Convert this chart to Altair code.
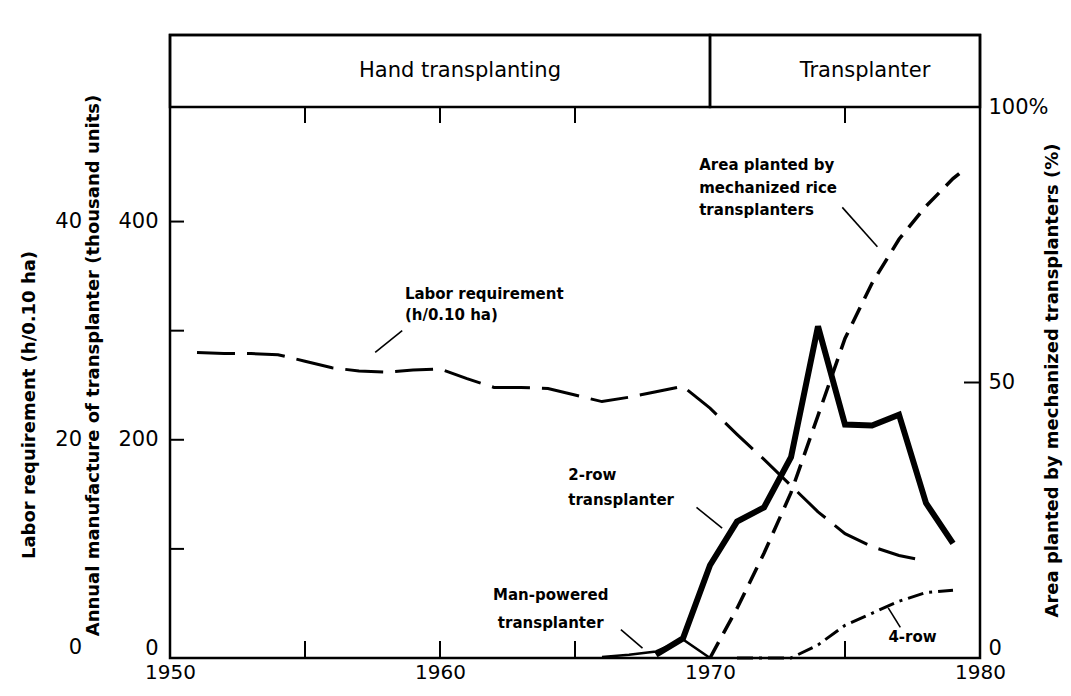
import altair as alt
import pandas as pd

# ---------------- data ----------------
labor_years = [1951, 1952, 1953, 1954, 1955, 1956, 1957, 1958, 1959, 1960, 1961, 1962,
               1963, 1964, 1965, 1966, 1967, 1968, 1969, 1970, 1971, 1972, 1973, 1974,
               1975, 1976, 1977, 1978]
labor_values = [28.0, 27.9, 27.9, 27.8, 27.2, 26.6, 26.3, 26.2, 26.4, 26.5, 25.6, 24.8,
                24.8, 24.7, 24.1, 23.5, 23.9, 24.4, 24.9, 22.9, 20.5, 18.2, 15.8, 13.4,
                11.4, 10.2, 9.4, 8.9]

two_row_years = [1968, 1969, 1970, 1971, 1972, 1973, 1974, 1975, 1976, 1977, 1978, 1979]
two_row_values = [3, 18, 85, 125, 138, 184, 304, 214, 213, 223, 142, 105]

man_years = [1966, 1967, 1968, 1969, 1970]
man_values = [1, 3, 6, 17, 0]

four_row_years = [1971, 1972, 1973, 1974, 1975, 1976, 1977, 1978, 1979]
four_row_values = [0, 0, 0, 12, 30, 41, 52, 60, 62]

area_years = [1970, 1971, 1972, 1973, 1974, 1975, 1976, 1977, 1978, 1979, 1979.5]
area_values = [0, 9, 19, 30, 44, 58, 68, 76, 82, 87, 89]

x_tick_labels = [1950, 1960, 1970, 1980]
x_minor_ticks = [1955, 1960, 1965, 1975]
left_tick_labels = [0, 200, 400]
labor_tick_labels = [0, 20, 40]
left_minor_ticks = [100, 200, 300, 400]
right_tick_labels = [0, 50, 100]
right_minor_ticks = [50]

header_labels = ["Hand transplanting", "Transplanter"]
header_start = [1950, 1970]
header_end = [1970, 1980]

ann_text = ["Labor requirement", "(h/0.10 ha)",
            "Area planted by", "mechanized rice", "transplanters",
            "2-row", "transplanter",
            "Man-powered", "transplanter",
            "4-row"]
ann_year = [1958.7, 1958.7, 1969.6, 1969.6, 1969.6, 1964.75, 1964.75, 1964.1, 1964.1, 1977.5]
ann_level = [334, 314, 452, 431, 411, 168, 145, 58, 32, 19]
ann_align = ["left", "left", "left", "left", "left", "left", "left", "center", "center", "center"]

ptr_x1 = [1958.6, 1974.9, 1969.5, 1966.7, 1976.6]
ptr_x2 = [1957.6, 1976.2, 1970.45, 1967.5, 1977.05]
ptr_y1 = [300, 413, 138, 26, 46]
ptr_y2 = [280, 377, 119, 9, 28]

# ---------------- layout ----------------
W, H, HEAD = 810, 623, 72
FONT = "DejaVu Sans"
INK = "black"

def series_df(years, values, scale=1.0):
    return pd.DataFrame({"x": years, "y": [v * scale for v in values]})

zero_base = {"condition": {"test": "datum.value == 0", "value": "bottom"}, "value": "middle"}

xscale = alt.Scale(domain=[1950, 1980], nice=False, zero=False)
x_axis = alt.Axis(values=x_tick_labels, format="d", ticks=False, domain=False, grid=False,
                  labelFontSize=20, labelFont=FONT, labelColor=INK, labelPadding=4,
                  labelFlush=False, labelOverlap=False, title=None)
X = alt.X("x:Q", scale=xscale, axis=x_axis)

lscale = alt.Scale(domain=[0, 505], range=[H, HEAD], nice=False, zero=False)
left_axis = alt.Axis(values=left_tick_labels, ticks=False, domain=False, grid=False,
                     labelFontSize=21, labelFont=FONT, labelColor=INK, labelPadding=12,
                     labelOverlap=False, labelBaseline=zero_base,
                     title="Annual manufacture of transplanter (thousand units)",
                     titleFont=FONT, titleFontSize=18, titleFontWeight="bold", titleColor=INK,
                     titleAngle=270, titleX=-77, titleY=330, titleAlign="center",
                     titleBaseline="middle")
YL = alt.Y("y:Q", scale=lscale, axis=left_axis)

rscale = alt.Scale(domain=[0, 100], range=[H, HEAD], nice=False, zero=False)
right_axis = alt.Axis(orient="right", values=right_tick_labels, ticks=False, domain=False,
                      grid=False, labelFontSize=21, labelFont=FONT, labelColor=INK,
                      labelPadding=8, labelOverlap=False, labelBaseline=zero_base,
                      labelExpr="datum.value == 100 ? '100%' : datum.label",
                      title="Area planted by mechanized transplanters (%)",
                      titleFont=FONT, titleFontSize=18, titleFontWeight="bold", titleColor=INK,
                      titleAngle=270, titleX=72, titleY=345, titleAlign="center",
                      titleBaseline="middle")
YR = alt.Y("y:Q", scale=rscale, axis=right_axis)

# ---------------- left-scale layers ----------------
labor = alt.Chart(series_df(labor_years, labor_values, 10)).mark_line(
    color=INK, strokeWidth=3, strokeDash=[38, 12]).encode(x=X, y=YL)
two_row = alt.Chart(series_df(two_row_years, two_row_values)).mark_line(
    color=INK, strokeWidth=6, strokeJoin="miter").encode(x=X, y=YL)
man = alt.Chart(series_df(man_years, man_values)).mark_line(
    color=INK, strokeWidth=2.5).encode(x=X, y=YL)
four_row = alt.Chart(series_df(four_row_years, four_row_values)).mark_line(
    color=INK, strokeWidth=3, strokeDash=[16, 6, 3, 6]).encode(x=X, y=YL)

ann_df = pd.DataFrame({"t": ann_text, "x": ann_year, "y": ann_level, "a": ann_align})
ann_left = alt.Chart(ann_df).transform_filter("datum.a == 'left'").mark_text(
    align="left", baseline="middle", font=FONT, fontSize=15, fontWeight="bold",
    color=INK).encode(x=X, y=YL, text="t:N")
ann_center = alt.Chart(ann_df).transform_filter("datum.a == 'center'").mark_text(
    align="center", baseline="middle", font=FONT, fontSize=15, fontWeight="bold",
    color=INK).encode(x=X, y=YL, text="t:N")

ptr_df = pd.DataFrame({"x": ptr_x1, "x2": ptr_x2, "y": ptr_y1, "y2": ptr_y2})
pointers = alt.Chart(ptr_df).mark_rule(color=INK, strokeWidth=1.6).encode(
    x=X, x2="x2:Q", y=YL, y2="y2:Q")

left_ticks = alt.Chart(pd.DataFrame({"y": left_minor_ticks})).mark_rule(
    color=INK, strokeWidth=2).encode(y=YL, x=alt.value(0), x2=alt.value(14))

labor_lbl = alt.Chart(pd.DataFrame({"v": labor_tick_labels})).transform_calculate(
    y="datum.v * 10", t="'' + datum.v",
    b="datum.v == 0 ? 'bottom' : 'middle'").mark_text(
    align="right", baseline={"expr": "datum.b"}, font=FONT, fontSize=21, color=INK).encode(
    y=YL, x=alt.value(-88), text="t:N")

labor_title = alt.Chart(pd.DataFrame({"t": ["Labor requirement (h/0.10 ha)"]})).mark_text(
    angle=270, align="center", baseline="middle", font=FONT, fontSize=18,
    fontWeight="bold", color=INK).encode(x=alt.value(-140), y=alt.value(370), text="t:N")

# ---------------- header & x ticks ----------------
head_df = pd.DataFrame({"t": header_labels, "x": header_start, "x2": header_end})
head_df["m"] = (head_df["x"] + head_df["x2"]) / 2
header_box = alt.Chart(head_df).mark_rect(
    fillOpacity=0, stroke=INK, strokeWidth=2.5).encode(
    x=X, x2="x2:Q", y=alt.value(0), y2=alt.value(HEAD))
header_txt = alt.Chart(head_df).mark_text(
    font=FONT, fontSize=21, color=INK, baseline="middle", dx=20).encode(
    x=alt.X("m:Q", scale=xscale, axis=x_axis), y=alt.value(HEAD / 2), text="t:N")

xt_df = pd.DataFrame({"x": x_minor_ticks})
bottom_ticks = alt.Chart(xt_df).mark_rule(color=INK, strokeWidth=2).encode(
    x=X, y=alt.value(H), y2=alt.value(H - 17))
top_ticks = alt.Chart(xt_df).mark_rule(color=INK, strokeWidth=2).encode(
    x=X, y=alt.value(HEAD), y2=alt.value(HEAD + 16))

left_group = alt.layer(labor, four_row, man, two_row, pointers, ann_left, ann_center,
                       left_ticks, labor_lbl, labor_title, header_box, header_txt,
                       bottom_ticks, top_ticks)

# ---------------- right-scale layers ----------------
area = alt.Chart(series_df(area_years, area_values)).mark_line(
    color=INK, strokeWidth=3.5, strokeDash=[18, 10]).encode(x=X, y=YR)
right_ticks = alt.Chart(pd.DataFrame({"y": right_minor_ticks})).mark_rule(
    color=INK, strokeWidth=2).encode(y=YR, x=alt.value(W), x2=alt.value(W - 16))

right_group = alt.layer(area, right_ticks)

chart = alt.layer(left_group, right_group).resolve_scale(y="independent").properties(
    width=W, height=H,
    padding={"left": 162, "top": 27, "right": 83, "bottom": 30},
    autosize=alt.AutoSizeParams(type="none"),
    background="white",
).configure_view(stroke=INK, strokeWidth=2.5)

chart.save("out.html", embed_options={"renderer": "svg", "actions": False})
